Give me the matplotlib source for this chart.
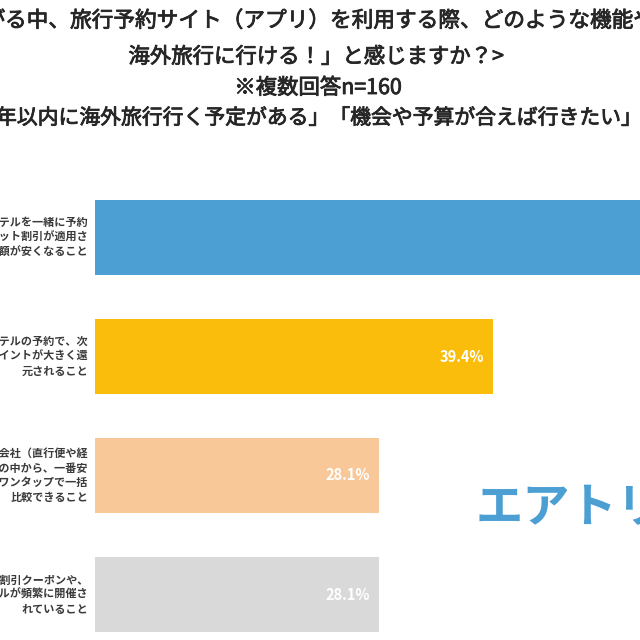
import matplotlib
matplotlib.use("Agg")
import matplotlib.pyplot as plt
import matplotlib.patheffects as pe

plt.rcParams['font.family'] = ['Noto Sans CJK JP', 'DejaVu Sans']

# データ
labels = [
    "航空券とホテルを一緒に予約\nすることでセット割引が適用さ\nれ、旅行総額が安くなること",
    "航空券やホテルの予約で、次\n回使えるポイントが大きく還\n元されること",
    "複数の航空会社（直行便や経\n由便）の中から、一番安\nい便をワンタップで一括\n比較できること",
    "限定の割引クーポンや、\nタイムセールが頻繁に開催さ\nれていること",
]
values = [63.1, 39.4, 28.1, 28.1]
colors = ["#4b9fd3", "#fbbd0b", "#f8c899", "#d9d9d9"]

# タイトル（左右が切れている行は切れ目で2つに分ける）
title1 = ("＜物価が上が", "る中、旅行予約サイト（アプリ）を利用する際、どのような機能やサービスがあれば「")
title2 = "海外旅行に行ける！」と感じますか？>"
title3 = "※複数回答n=160"
title4 = ("「1", "年以内に海外旅行行く予定がある」「機会や予算が合えば行きたい」と回答")

fig = plt.figure(figsize=(6.4, 6.4), dpi=100)
ax = fig.add_axes([95 / 640, -14 / 640, 606 / 640, 476 / 640])

y = list(range(len(values)))
ax.barh(y, values, height=0.63, color=colors)
ax.set_xlim(0, 60)
ax.set_ylim(3.5, -0.5)
ax.axis('off')

for i, (lab, v) in enumerate(zip(labels, values)):
    ax.annotate(lab, xy=(0, i), xytext=(-5, 0), textcoords='offset points',
                ha='right', va='center', multialignment='right',
                fontsize=8, fontweight='bold', color='#3a3a3a', linespacing=1.15,
                annotation_clip=False)
    ax.annotate(f"{v}%", xy=(v, i), xytext=(-6, 0), textcoords='offset points',
                ha='right', va='center', fontsize=10.5, fontweight='bold',
                color='white', annotation_clip=False)

tstyle = dict(va='center', color='#262626',
              path_effects=[pe.withStroke(linewidth=0.6, foreground='#262626')])

fig.text(5 / 640, 1 - 21 / 640, title1[0], ha='right', fontsize=15.6, **tstyle)
fig.text(5 / 640, 1 - 21 / 640, title1[1], ha='left', fontsize=15.6, **tstyle)
fig.text(316 / 640, 1 - 57 / 640, title2, ha='center', fontsize=15.4, **tstyle)
fig.text(318 / 640, 1 - 88 / 640, title3, ha='center', fontsize=15.4, **tstyle)
fig.text(-4 / 640, 1 - 118 / 640, title4[0], ha='right', fontsize=15.0, **tstyle)
fig.text(-4 / 640, 1 - 118 / 640, title4[1], ha='left', fontsize=15.0, **tstyle)

# ロゴ
fig.text(476 / 640, 1 - 508 / 640, "エアトリ", ha='left', va='center',
         fontsize=34, fontweight='bold', color='#4b9fd3')

fig.savefig("out.png", dpi=100)
